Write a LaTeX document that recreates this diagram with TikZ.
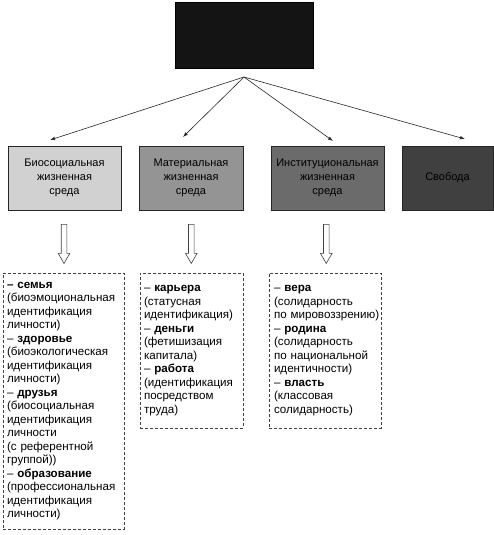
\documentclass[tikz,border=0pt]{standalone}
\usepackage{fontspec}
\setmainfont{Liberation Sans}
\usetikzlibrary{calc,arrows.meta,shapes.arrows}
\hyphenpenalty=10000
\exhyphenpenalty=10000

\begin{document}
\begin{tikzpicture}[x=1pt,y=-1pt,
  envbox/.style={draw=black!85,line width=0.8pt,inner sep=0pt,align=center,
    font=\fontsize{11}{14}\selectfont,minimum height=64pt},
  listbox/.style={draw=black!75,line width=0.8pt,dash pattern=on 3pt off 2pt,
    inner sep=0pt,align=left,font=\fontsize{11.6}{13.5}\selectfont},
  link/.style={line width=0.6pt,black!85,-{Latex[length=5pt,width=3.5pt]}},
  hollow/.style={single arrow,draw=black!75,line width=0.6pt,rotate=-90,
    inner sep=2.5pt,minimum height=39pt,single arrow head extend=3pt,
    single arrow tip angle=60}]
\useasboundingbox (0,0) rectangle (494,535);
\coordinate (hub) at (244,77);
\coordinate (t1) at (50,140);
\coordinate (t2) at (183,137);
\coordinate (t3) at (333,141);
\coordinate (t4) at (465,139);
% top box
\node[draw=black,fill=black!92,minimum width=138pt,minimum height=66pt] (top) at (244,35) {};
% environments
\node[envbox,fill=black!18,minimum width=113pt] (bio) at (64.5,178) {Биосоциальная\\жизненная\\среда};
\node[envbox,fill=black!42,minimum width=104pt] (mat) at (191,178) {Материальная\\жизненная\\среда};
\node[envbox,fill=black!58,minimum width=113pt] (inst) at (327.5,178) {Институциональная\\жизненная\\среда};
\node[envbox,fill=black!75,minimum width=91pt] (free) at (447.5,178) {Свобода};
\draw[link] (hub)--(t1);
\draw[link] (hub)--(t2);
\draw[link] (hub)--(t3);
\draw[link] (hub)--(t4);
% lists
\node[listbox,minimum width=121pt,minimum height=256pt,text width=113pt] (bioList) at (63.5,401) {%
\textbf{– семья}\\(биоэмоциональная\\идентификация\\личности)\\
– \textbf{здоровье}\\(биоэкологическая\\идентификация\\личности)\\
– \textbf{друзья}\\(биосоциальная\\идентификация\\личности\\(с~референтной\\группой))\\
– \textbf{образование}\\(профессиональная\\идентификация\\личности)};
\node[listbox,minimum width=103pt,minimum height=155pt,text width=95pt] (matList) at (191.5,350.5) {%
– \textbf{карьера}\\(статусная\\идентификация)\\
– \textbf{деньги}\\(фетишизация\\капитала)\\
– \textbf{работа}\\(идентификация\\посредством\\труда)};
\node[listbox,minimum width=112pt,minimum height=155pt,text width=102pt] (instList) at (325,350.5) {%
– \textbf{вера}\\(солидарность\\по~мировоззрению)\\
– \textbf{родина}\\(солидарность\\по~национальной\\идентичности)\\
– \textbf{власть}\\(классовая\\солидарность)};
\node[hollow] (a1) at ($(bio.south)!0.5!(bioList.north)$) {};
\node[hollow] (a2) at ($(mat.south)!0.5!(matList.north)$) {};
\node[hollow] (a3) at ($(inst.south)!0.5!(instList.north)$) {};
\end{tikzpicture}
\end{document}
